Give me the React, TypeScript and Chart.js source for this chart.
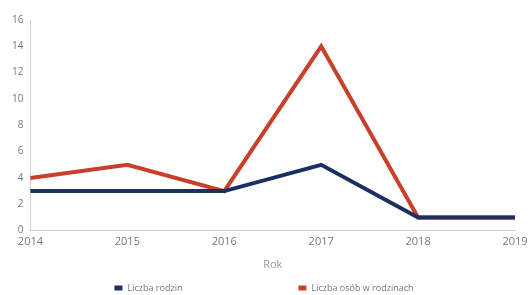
import React, { useEffect, useRef } from "react";
import { Chart, registerables } from "chart.js";

Chart.register(...registerables);

const years = ["2014", "2015", "2016", "2017", "2018", "2019"];
const liczbaRodzin = [3, 3, 3, 5, 1, 1];
const liczbaOsob = [4, 5, 3, 14, 1, 1];
const seriesNames = ["Liczba rodzin", "Liczba osób w rodzinach"];
const axisTitle = "Rok";
const FONT = "'Open Sans', sans-serif";

const legendPlugin = {
  id: "customLegend",
  afterDraw(chart: any) {
    const ctx = chart.ctx as CanvasRenderingContext2D;
    ctx.save();
    ctx.font = `9px ${FONT}`;
    ctx.textBaseline = "middle";
    const boxW = 8;
    const boxH = 5;
    const gapBoxText = 5;
    const itemGap = 116;
    const items = chart.data.datasets.map((ds: any) => ({
      label: ds.label,
      color: ds.borderColor,
      w: boxW + gapBoxText + ctx.measureText(ds.label).width,
    }));
    const total = items.reduce((s: number, it: any) => s + it.w, 0) + itemGap * (items.length - 1);
    let x = (chart.width - total) / 2;
    const y = 288;
    for (const it of items) {
      ctx.fillStyle = it.color;
      ctx.fillRect(x, y - boxH / 2, boxW, boxH);
      ctx.fillStyle = "#777";
      ctx.fillText(it.label, x + boxW + gapBoxText, y);
      x += it.w + itemGap;
    }
    ctx.restore();
  },
};

export default function App() {
  const ref = useRef<HTMLCanvasElement | null>(null);
  useEffect(() => {
    document.body.style.margin = "0";
    const ctx = ref.current!;
    const chart = new Chart(ctx, {
      type: "line",
      data: {
        labels: years,
        datasets: [
          {
            label: seriesNames[0],
            data: liczbaRodzin,
            borderColor: "#1c2f63",
            backgroundColor: "#1c2f63",
            borderWidth: 4,
            pointRadius: 0,
            tension: 0,
          },
          {
            label: seriesNames[1],
            data: liczbaOsob,
            borderColor: "#c9402a",
            backgroundColor: "#c9402a",
            borderWidth: 4,
            pointRadius: 0,
            tension: 0,
          },
        ],
      },
      options: {
        animation: false,
        responsive: false,
        layout: { padding: { left: 5, right: 0, top: 20, bottom: 24 } },
        scales: {
          x: {
            offset: false,
            afterFit: (scale: any) => {
              scale.paddingRight = 13;
            },
            grid: { display: false, drawTicks: false },
            border: { display: true, color: "#cfcfcf", width: 1 },
            ticks: { color: "#777", font: { size: 11, family: FONT }, padding: 5, maxRotation: 0 },
            title: { display: true, text: axisTitle, color: "#999", font: { size: 11, family: FONT }, padding: { top: 4, bottom: 0 } },
          },
          y: {
            min: 0,
            max: 16,
            grid: { display: false, drawTicks: false },
            border: { display: true, color: "#cfcfcf", width: 1 },
            ticks: { stepSize: 2, color: "#777", font: { size: 10, family: FONT }, padding: 7 },
          },
        },
        plugins: {
          legend: { display: false },
          tooltip: { enabled: false },
        },
      },
      plugins: [legendPlugin],
    });
    return () => chart.destroy();
  }, []);
  return (
    <div style={{ width: 528, height: 295 }}>
      <canvas ref={ref} width={528} height={295} style={{ display: "block" }} />
    </div>
  );
}
